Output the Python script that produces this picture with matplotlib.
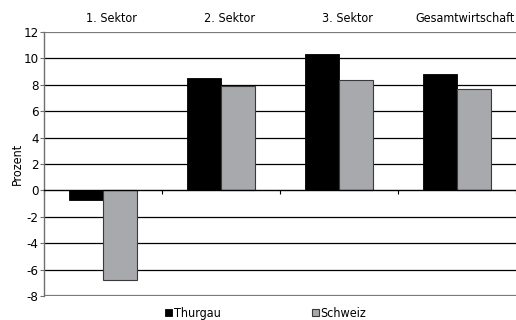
import numpy as np
import matplotlib.pyplot as plt

# Wachstum nach Sektoren, Thurgau vs. Schweiz (Prozent)
sektoren = ["1. Sektor", "2. Sektor", "3. Sektor", "Gesamtwirtschaft"]
thurgau = [-0.7, 8.5, 10.3, 8.8]
schweiz = [-6.8, 7.9, 8.4, 7.7]
yticks = [-8, -6, -4, -2, 0, 2, 4, 6, 8, 10, 12]

plt.rcParams['font.family'] = ['DejaVu Sans']
plt.rcParams['font.stretch'] = 'condensed'

fig = plt.figure(figsize=(5.16, 3.2), dpi=100)
ax = fig.add_axes([0.0853, 0.075, 0.9147, 0.825])

x = np.arange(len(sektoren))
w = 0.29
b1 = ax.bar(x - w / 2, thurgau, w, color='black', edgecolor='black', linewidth=0.6, label='Thurgau', zorder=3)
b2 = ax.bar(x + w / 2, schweiz, w, color='#a7a9ac', edgecolor='#3a3a3a', linewidth=0.8, label='Schweiz', zorder=3)

ax.set_xlim(-0.5, len(sektoren) - 0.5)
ax.set_ylim(-8, 12)
ax.set_yticks(yticks)
ax.set_yticklabels([str(v) for v in yticks], fontsize=9.5)
ax.tick_params(axis='y', length=3, width=0.8, color='#707070', pad=1)

# Gitternetz
for v in yticks:
    if v in (-8, 12):
        ax.axhline(v, color='#7a7a7a', lw=1.6, zorder=1)
    elif v != 0:
        ax.axhline(v, color='black', lw=0.9, zorder=1)

# Kategorienachse auf der Nulllinie
for s in ['top', 'right']:
    ax.spines[s].set_visible(False)
ax.spines['left'].set_color('#707070')
ax.spines['left'].set_linewidth(1.0)
ax.spines['bottom'].set_position(('data', 0))
ax.spines['bottom'].set_color('black')
ax.spines['bottom'].set_linewidth(1.0)
ax.spines['bottom'].set_zorder(4)
ax.set_xticks(np.arange(len(sektoren) + 1) - 0.5)
ax.set_xticklabels([])
ax.tick_params(axis='x', direction='out', length=3, width=0.8)

# Sektorbezeichnungen oberhalb
for i, name in enumerate(sektoren):
    ax.text(i + 0.07, 12.5, name, ha='center', va='bottom', fontsize=9)

ax.set_ylabel('Prozent', fontsize=9)
ax.yaxis.set_label_coords(-0.043, 0.5)

fig.legend(handles=[b1, b2], labels=['Thurgau', 'Schweiz'], loc='lower center',
           bbox_to_anchor=(0.515, -0.035), ncol=2, frameon=False, fontsize=9,
           handlelength=0.55, handleheight=0.55, handletextpad=0.15, columnspacing=7.3)

fig.savefig('out.png', dpi=100)
